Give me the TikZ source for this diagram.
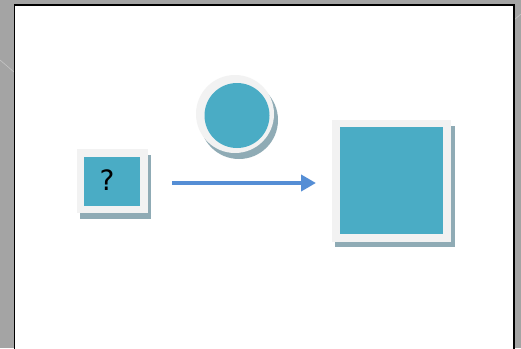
\documentclass[tikz,border=0pt]{standalone}
\usepackage{fontspec}
\setsansfont{DejaVu Sans}
\usetikzlibrary{arrows.meta}
\definecolor{bgout}{HTML}{A4A4A4}
\definecolor{teal}{HTML}{4AACC5}
\definecolor{rim}{HTML}{F2F2F2}
\definecolor{shad}{HTML}{8FABB5}
\definecolor{arrowblue}{HTML}{558ED5}
\tikzset{
  rimbox/.style={fill=rim, draw=none},
  tealbox/.style={fill=teal, draw=none},
  shadowbox/.style={fill=shad, draw=none},
  flowarrow/.style={draw=arrowblue, line width=4pt, -{Triangle[length=15pt,width=16pt]}}
}
\begin{document}
\begin{tikzpicture}[x=1pt,y=-1pt]
\useasboundingbox (0,0) rectangle (521,348);
\fill[bgout] (0,0) rectangle (521,348);
\draw[white!70!bgout, line width=0.6pt, opacity=0.5] (0,60) -- (14,72);
\draw[white!70!bgout, line width=0.6pt, opacity=0.5] (514,20) -- (521,14);
\draw[black, line width=1.6pt, fill=white] (14.5,5) rectangle (514,360);
% small square
\fill[shadowbox] (80,155) rectangle (151,219);
\fill[rimbox] (77,149) rectangle (148,213);
\node[tealbox, minimum width=56pt, minimum height=49pt, inner sep=0pt, anchor=center] (q) at (112,181) {};
\node[inner sep=0pt, font=\sffamily\fontsize{28}{28}\selectfont] (qt) at (107,180) {?};
% circle
\fill[shadowbox] (239,120) circle (39);
\fill[rimbox] (235,114) circle (39);
\node[circle, tealbox, minimum size=65pt, inner sep=0pt] (c) at (237,115.5) {};
% big square
\fill[shadowbox] (335,126) rectangle (455,247);
\fill[rimbox] (332,119.5) rectangle (451,241.5);
\node[tealbox, minimum width=103pt, minimum height=107pt, inner sep=0pt] (b) at (391.7,180.7) {};
% arrow
\coordinate (a1) at (172,183);
\coordinate (a2) at (316,183);
\draw[flowarrow] (a1) -- (a2);
\end{tikzpicture}
\end{document}
